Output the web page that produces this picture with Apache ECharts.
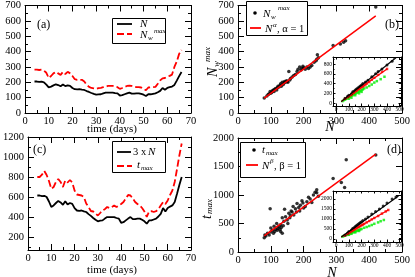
<!DOCTYPE html>
<html><head><meta charset="utf-8">
<script src="https://cdn.jsdelivr.net/npm/echarts@6/dist/echarts.min.js"></script>
<style>html,body{margin:0;padding:0;background:#fff}#c{width:415px;height:277px}</style>
</head><body><div id="c"></div>
<script>
// ---------- data ----------
const days = [4,5,6,7,8,9,10,11,12,13,14,15,16,17,18,19,20,21,22,23,24,25,26,27,28,29,30,31,32,33,34,35,36,37,38,39,40,41,42,43,44,45,46,47,48,49,50,51,52,53,54,55,56,57,58,59,60,61,62,63,64,65,66];
const nValues = [205,205,203,204,200,185,167,172,180,187,182,174,186,175,180,177,163,155,154,155,152,150,143,137,130,124,119,121,122,128,133,133,133,133,130,128,114,116,122,128,133,126,126,128,128,124,119,111,122,122,125,128,135,144,163,152,163,168,172,183,211,240,267];
const nwMax = [282,282,280,282,276,262,228,241,258,268,258,248,268,254,268,258,241,220,216,216,216,205,183,170,163,160,157,162,164,168,172,176,176,176,172,168,157,163,170,176,178,176,172,168,168,166,157,148,166,168,168,170,190,212,226,228,236,242,250,300,335,385,410];
const tMax = [800,800,823,860,820,760,683,700,750,780,750,700,765,745,770,745,665,625,620,615,600,535,500,460,455,435,415,440,465,478,500,490,500,515,500,515,530,550,585,620,615,585,550,530,515,490,455,400,455,458,450,458,478,515,550,530,565,620,665,750,880,1015,1135];

const bScatter = [[80,97],[88,110],[92,120],[95,125],[98,140],[100,128],[103,135],[105,145],[108,150],[110,140],[112,155],[115,160],[118,150],[120,165],[122,175],[125,170],[128,180],[130,190],[132,175],[135,200],[138,185],[140,195],[142,205],[145,200],[148,210],[150,205],[152,200],[155,270],[158,215],[160,225],[165,235],[170,245],[175,250],[180,270],[183,285],[188,300],[192,280],[195,290],[198,305],[200,295],[205,285],[210,300],[215,290],[220,300],[225,310],[232,330],[238,340],[240,350],[242,380],[245,360],[290,440],[312,450],[322,460],[328,470],[420,690]];
const bFit = [[80,97],[420,633]];
const dScatter = [[80,250],[82,300],[85,280],[90,330],[95,300],[98,760],[100,350],[100,420],[105,380],[108,330],[110,450],[112,360],[115,400],[118,500],[120,380],[122,420],[125,450],[128,400],[130,480],[130,360],[132,430],[135,600],[135,330],[138,460],[140,540],[142,750],[145,620],[150,560],[152,500],[155,680],[158,600],[160,640],[162,720],[165,700],[168,800],[170,650],[175,760],[178,700],[180,850],[185,780],[188,720],[190,820],[195,900],[198,860],[200,770],[205,800],[210,880],[215,960],[220,930],[225,870],[230,1000],[235,1050],[240,1090],[240,1040],[245,980],[290,1290],[315,1220],[325,1130],[330,1620],[420,1700]];
const dFit = [[80,282],[420,1718]];

const inBBlack = [[70,100],[90,140],[100,160],[120,190],[130,230],[140,240],[150,270],[160,290],[170,310],[180,330],[190,350],[200,370],[210,400],[230,430],[250,470],[280,540],[310,600],[330,650],[360,700],[400,780],[440,860]];
const inBRed = [[70,90],[90,120],[100,140],[110,160],[120,170],[130,200],[140,210],[150,240],[160,250],[170,280],[180,290],[190,310],[200,330],[210,340],[220,360],[230,380],[240,400],[260,430],[280,480],[300,520],[330,580],[360,640],[400,700]];
const inBGreen = [[50,40],[60,60],[70,70],[80,90],[90,100],[100,120],[100,90],[110,130],[120,150],[120,110],[130,160],[140,180],[150,190],[150,160],[160,210],[170,220],[180,240],[180,200],[190,250],[200,270],[200,230],[210,280],[220,300],[240,320],[260,350],[280,380],[300,420],[320,450],[350,490],[380,540]];
const inBBlackFit = [[40,30],[470,930]];
const inBRedFit = [[40,30],[400,700]];

const inDBlack = [[70,200],[90,300],[100,380],[120,450],[130,520],[140,560],[150,620],[160,680],[170,720],[180,770],[190,820],[200,860],[210,920],[230,1000],[250,1100],[280,1250],[310,1380],[340,1500],[370,1650],[400,1800],[440,2000],[470,2100]];
const inDRed = [[70,180],[90,250],[100,300],[110,340],[120,380],[130,420],[140,460],[150,500],[160,540],[170,580],[180,610],[190,650],[200,690],[210,720],[220,760],[240,830],[260,900],[280,980],[300,1050],[330,1150],[360,1270],[390,1380],[410,1450]];
const inDGreen = [[50,120],[60,150],[70,180],[80,200],[90,230],[100,250],[100,210],[110,280],[120,300],[120,260],[130,330],[140,350],[150,380],[150,330],[160,400],[170,430],[180,450],[180,400],[190,480],[200,500],[220,560],[240,600],[260,650],[280,700],[300,760],[330,830],[350,890],[375,950]];
const inDBlackFit = [[40,100],[490,2150]];
const inDRedFit = [[40,100],[410,1450]];

// tick labels
const timeTicks = [0,10,20,30,40,50,60,70];
const aYTicks = [0,100,200,300,400,500,600,700];
const cYTicks = [200,400,600,800,1000,1200];
const nTicks = [0,100,200,300,400,500];
const bYTicks = [0,100,200,300,400,500,600,700];
const dYTicks = [0,500,1000,1500,2000];
const inBYTicks = [0,200,400,600,800];
const inDYTicks = [0,500,1000,1500,2000];

// ---------- build ----------
const FONT = '"Liberation Serif", "Times New Roman", serif';
function steps(a,b,s){const r=[];for(let v=a;v<=b+1e-9;v+=s)r.push(Math.round(v*1000)/1000);return r;}
const xAxes=[], yAxes=[];
function addAxes(list, dir, gi, min, max, majors, minors, o){
  const pos = dir==='x' ? ['bottom','top'] : ['left','right'];
  const idx = list.length;
  pos.forEach((p,k)=>{
    list.push({type:'value', gridIndex:gi, min:min, max:max, position:p, silent:true,
      splitLine:{show:false},
      axisLine:{show:true, onZero:false, lineStyle:{color:'#000', width:1}},
      axisTick:{show:true, inside:true, length:o.maj, customValues:majors, lineStyle:{color:'#000', width:1}},
      axisLabel:{show:k===0, customValues:majors, fontFamily:FONT, fontSize:o.fs, color:'#000', margin:o.margin,
        formatter:function(v){return String(v);}}
    });
    list.push({type:'value', gridIndex:gi, min:min, max:max, position:p, silent:true,
      splitLine:{show:false},
      axisLine:{show:false, onZero:false},
      axisTick:{show:true, inside:true, length:o.mn, customValues:minors, lineStyle:{color:'#000', width:1}},
      axisLabel:{show:false}
    });
  });
  return idx;
}
const M = {fs:10.5, maj:6, mn:3, margin:3};
const MY = {fs:10.5, maj:6, mn:3, margin:4};
const I = {fs:5.5, maj:2.5, mn:1.5, margin:1};

const grids = [
  {left:25, top:5, width:166, height:108},
  {left:238, top:5, width:164, height:108},
  {left:25, top:137, width:166, height:113},
  {left:238, top:138, width:164, height:114},
  {left:333, top:57, width:68, height:49},
  {left:333, top:191, width:68, height:51}
];
const ax = [];
ax[0] = [addAxes(xAxes,'x',0,0,70,timeTicks,steps(0,70,5),M), addAxes(yAxes,'y',0,0,700,aYTicks,steps(0,700,50),MY)];
ax[1] = [addAxes(xAxes,'x',1,0,500,nTicks,steps(0,500,50),M), addAxes(yAxes,'y',1,0,700,bYTicks,steps(0,700,50),MY)];
ax[2] = [addAxes(xAxes,'x',2,0,70,timeTicks,steps(0,70,5),M), addAxes(yAxes,'y',2,70,1200,cYTicks,steps(100,1200,100),MY)];
ax[3] = [addAxes(xAxes,'x',3,0,500,nTicks,steps(0,500,50),M), addAxes(yAxes,'y',3,0,2000,dYTicks,steps(0,2000,250),MY)];
ax[4] = [addAxes(xAxes,'x',4,-25,510,nTicks,steps(0,500,50),I), addAxes(yAxes,'y',4,-60,945,inBYTicks,steps(0,900,100),I)];
ax[5] = [addAxes(xAxes,'x',5,-25,510,nTicks,steps(0,500,50),I), addAxes(yAxes,'y',5,-150,2400,inDYTicks,steps(0,2000,250),I)];

function ser(g, o){ return Object.assign({xAxisIndex:ax[g][0], yAxisIndex:ax[g][1], animation:false, silent:true}, o); }
function ln(g, data, color, w, dash){ return ser(g,{type:'line', data:data, symbol:'none', lineStyle:{color:color, width:w, type: dash||'solid'}}); }
function sc(g, data, color, size, sym){ return ser(g,{type:'scatter', data:data, symbol:sym||'circle', symbolSize:size, itemStyle:{color:color}}); }

const aN = days.map((t,i)=>[t, nValues[i]]);
const aNw = days.map((t,i)=>[t, nwMax[i]]);
const c3N = days.map((t,i)=>[t, 3*nValues[i]]);
const cT = days.map((t,i)=>[t, tMax[i]]);
const DASH = [7,3];

const series = [
  ln(0, aN, '#000', 1.8), ln(0, aNw, '#ff0000', 1.8, DASH),
  ln(1, bFit, '#ff0000', 1.5), sc(1, bScatter, '#000', 3.5),
  ln(2, c3N, '#000', 1.8), ln(2, cT, '#ff0000', 1.8, DASH),
  ln(3, dFit, '#ff0000', 1.5), sc(3, dScatter, '#000', 3.5),
  sc(4, inBGreen, '#00ee00', 2.5, 'rect'), sc(4, inBRed, '#ff0000', 2.5, 'rect'), sc(4, inBBlack, '#000', 3),
  ln(4, inBRedFit, '#ff0000', 1.2), ln(4, inBBlackFit, '#000', 1.2),
  sc(5, inDGreen, '#00ee00', 2.5, 'rect'), sc(5, inDRed, '#ff0000', 2.5, 'rect'), sc(5, inDBlack, '#000', 3),
  ln(5, inDRedFit, '#ff0000', 1.2), ln(5, inDBlackFit, '#000', 1.2)
];

// ---------- decorations ----------
function T(x,y,text,size,italic,align,extra){
  return Object.assign({type:'text', x:x, y:y, z:100, silent:true, style:{text:text, font:(italic?'italic ':'')+size+'px '+FONT, fill:'#000', textAlign:align||'left', align:align||'left', textVerticalAlign:'middle', verticalAlign:'middle'}}, extra||{});
}
function R(x,y,w,h){ return {type:'rect', z:99, silent:true, shape:{x:x+0.5,y:y+0.5,width:w,height:h}, style:{fill:'#fff', stroke:'#000', lineWidth:1}}; }
function L(x1,y1,x2,y2,color,dash){ return {type:'line', z:100, silent:true, shape:{x1:x1,y1:y1,x2:x2,y2:y2}, style:{stroke:color, lineWidth:1.8, lineDash:dash||null}}; }
function D(cx,cy){ return {type:'circle', z:100, silent:true, shape:{cx:cx,cy:cy,r:1.8}, style:{fill:'#000'}}; }

const graphics = [
  // panel labels
  T(37,25,'(a)',12), T(385,25,'(b)',12), T(33,150,'(c)',12), T(387,150,'(d)',12),
  // axis titles
  T(112,129,'time (days)',11,false,'center'), T(112,270,'time (days)',11,false,'center'),
  T(330,127,'N',14,true,'center'), T(332,273,'N',14,true,'center'),
  {type:'group', x:213, y:77, rotation:Math.PI/2, children:[
    T(0,0,'N',14,true), T(10,4,'w',9,true), T(15,-5,'max',9,true)
  ]},
  {type:'group', x:207, y:219, rotation:Math.PI/2, children:[
    T(0,0,'t',14,true), T(5,3,'max',9,true)
  ]},
  // legend (a)
  R(112,18,53,25), L(117,24,132,24,'#000'), T(140,24,'N',11,true),
  L(117,34,132,34,'#ff0000',DASH), T(140,35,'N',11,true), T(148,38,'w',7,true), T(154,31,'max',7,true),
  // legend (b)
  R(246,1,61,34), D(255,13), T(263,14,'N',11,true), T(271,17,'w',7,true), T(278,8,'max',7,true),
  L(250,28,261,28,'#ff0000'), T(265,29,'N',11,true), T(273,25,'α',7,true), T(277,29,', α = 1',10.5),
  // legend (c)
  R(112,141,53,31), L(117,152,131,152,'#000'), T(133,152,'3 x ',10.5), T(148,152,'N',11,true),
  L(117,166,132,166,'#ff0000',DASH), T(137,165,'t',11,true), T(141,168,'max',7,true),
  // legend (d)
  R(240,142,65,35), D(254,150), T(262,150,'t',11,true), T(266,153,'max',7,true),
  L(246,165,258,165,'#ff0000'), T(262,166,'N',11,true), T(270,161,'β',7,true), T(274,166,', β = 1',10.5)
];

const chart = echarts.init(document.getElementById('c'), null, {renderer:'canvas'});
chart.setOption({
  animation:false,
  backgroundColor:'#fff',
  grid: grids,
  xAxis: xAxes,
  yAxis: yAxes,
  series: series,
  graphic: graphics
});
</script></body></html>
